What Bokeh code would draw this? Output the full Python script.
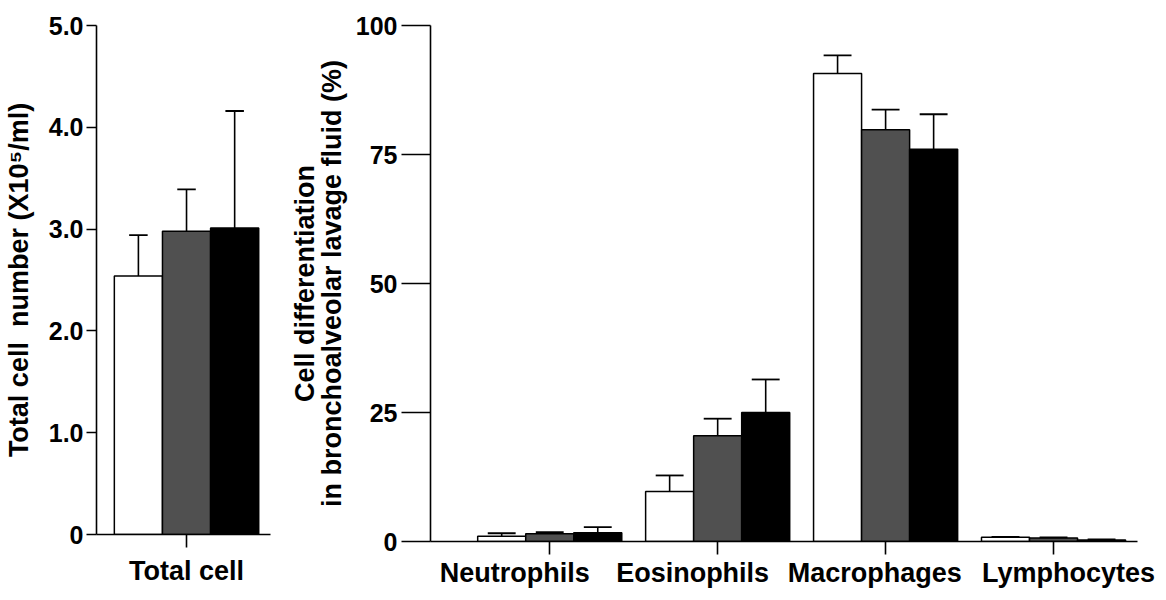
from bokeh.plotting import figure
from bokeh.layouts import row
from bokeh.models import FixedTicker, LinearAxis
from bokeh.embed import file_html
from bokeh.resources import INLINE

# ---------------- data ----------------
group_names = ["Group 1", "Group 2", "Group 3"]
group_fills = ["#ffffff", "#505050", "#000000"]

total_label = ["Total cell"]
total_mean = [2.54, 2.98, 3.01]
total_se = [0.40, 0.41, 1.15]

cell_types = ["Neutrophils", "Eosinophils", "Macrophages", "Lymphocytes"]
white_mean = [1.0, 9.7, 90.7, 0.8]
white_se = [0.6, 3.1, 3.5, 0.1]
gray_mean = [1.5, 20.5, 79.8, 0.7]
gray_se = [0.3, 3.3, 3.9, 0.1]
black_mean = [1.7, 25.0, 76.0, 0.3]
black_se = [1.1, 6.4, 6.8, 0.1]

# horizontal shift of each category name relative to its tick (x units)
label_shift = [-0.208, -0.149, -0.065, 0.089]

left_ticks = [0, 1, 2, 3, 4, 5]
left_tick_labels = ["0", "1.0", "2.0", "3.0", "4.0", "5.0"]
right_ticks = [0, 25, 50, 75, 100]
right_tick_labels = ["0", "25", "50", "75", "100"]

FONT = "Liberation Sans"
BAR_W = 0.286
OFFS = [-BAR_W, 0.0, BAR_W]


def style(p, tick_out_y, tick_out_x, xlabel_standoff):
    p.xgrid.visible = False
    p.ygrid.visible = False
    p.outline_line_color = None
    p.background_fill_color = "white"
    p.border_fill_color = "white"
    for ax in (p.xaxis, p.yaxis):
        ax.axis_line_width = 1.6
        ax.axis_line_color = "black"
        ax.major_tick_line_width = 1.6
        ax.major_tick_line_color = "black"
        ax.minor_tick_line_color = None
        ax.major_tick_in = 0
        ax.major_label_text_font = FONT
        ax.major_label_text_font_style = "bold"
        ax.major_label_text_color = "black"
        ax.axis_label_text_font = FONT
        ax.axis_label_text_font_style = "bold"
        ax.axis_label_text_color = "black"
        ax.axis_label_text_font_size = "27px"
    p.yaxis.major_tick_out = tick_out_y
    p.xaxis.major_tick_out = tick_out_x
    p.yaxis.major_label_text_font_size = "25px"
    p.xaxis.major_label_text_font_size = "27px"
    p.xaxis.major_label_standoff = xlabel_standoff


def bars_with_err(p, centers, means, ses, fill, cap_w):
    xs = list(centers)
    tops = [m + s for m, s in zip(means, ses)]
    p.vbar(x=xs, top=means, bottom=0, width=BAR_W, fill_color=fill,
           line_color="black", line_width=1.5)
    p.segment(x0=xs, y0=means, x1=xs, y1=tops, line_color="black", line_width=1.6)
    p.segment(x0=[x - cap_w / 2 for x in xs], y0=tops,
              x1=[x + cap_w / 2 for x in xs], y1=tops,
              line_color="black", line_width=1.8)


# ---------------- left panel ----------------
p1 = figure(frame_width=174, frame_height=509,
            min_border_left=91, min_border_right=10,
            min_border_top=25, min_border_bottom=58,
            x_range=(-0.035, 0.999), y_range=(0, 5),
            output_backend="svg", toolbar_location=None)
style(p1, 10, 13, 8)
p1.yaxis.ticker = FixedTicker(ticks=left_ticks)
p1.yaxis.major_label_overrides = {t: l for t, l in zip(left_ticks, left_tick_labels)}
p1.yaxis.major_label_standoff = 3
p1.yaxis.axis_label = "Total cell\u00a0 number (X10\u2075/ml)"
p1.yaxis.axis_label_standoff = 12
p1.xaxis.ticker = FixedTicker(ticks=[0.5])
p1.xaxis.major_label_overrides = {0.5: total_label[0]}

for gi in range(3):
    bars_with_err(p1, [0.5 + OFFS[gi]], [total_mean[gi]], [total_se[gi]],
                  group_fills[gi], 0.11)

# ---------------- right panel ----------------
p2 = figure(frame_width=707, frame_height=516,
            min_border_left=150, min_border_right=26,
            min_border_top=15, min_border_bottom=61,
            x_range=(-0.21, 4.0), y_range=(0, 100),
            output_backend="svg", toolbar_location=None)
style(p2, 29, 13, 0)
p2.yaxis.ticker = FixedTicker(ticks=right_ticks)
p2.yaxis.major_label_overrides = {t: l for t, l in zip(right_ticks, right_tick_labels)}
p2.yaxis.major_label_standoff = 4
p2.yaxis.axis_label = "Cell differentiation\nin bronchoalveolar lavage fluid (%)"
p2.yaxis.axis_label_text_line_height = 0.9
p2.yaxis.axis_label_standoff = 6

cat_centers = [i + 0.5 for i in range(len(cell_types))]
p2.xaxis.ticker = FixedTicker(ticks=cat_centers)
p2.xaxis.major_label_overrides = {c: "" for c in cat_centers}
p2.xaxis.major_label_text_font_size = "1px"

label_pos = [c + s for c, s in zip(cat_centers, label_shift)]
name_axis = LinearAxis(ticker=FixedTicker(ticks=label_pos),
                       major_label_overrides={x: n for x, n in zip(label_pos, cell_types)},
                       axis_line_color=None, major_tick_line_color=None,
                       minor_tick_line_color=None, major_tick_in=0, major_tick_out=0,
                       major_label_standoff=3,
                       major_label_text_font=FONT, major_label_text_font_style="bold",
                       major_label_text_font_size="27px", major_label_text_color="black")
p2.add_layout(name_axis, "below")

series = [(white_mean, white_se), (gray_mean, gray_se), (black_mean, black_se)]
for gi, (m, s) in enumerate(series):
    bars_with_err(p2, [c + OFFS[gi] for c in cat_centers], m, s, group_fills[gi], 0.166)

layout = row(p1, p2, spacing=0)
html = file_html(layout, INLINE, title="Cell counts")
html = html.replace("<head>", "<head><style>html,body{overflow:hidden;}</style>", 1)
open("out.html", "w").write(html)
